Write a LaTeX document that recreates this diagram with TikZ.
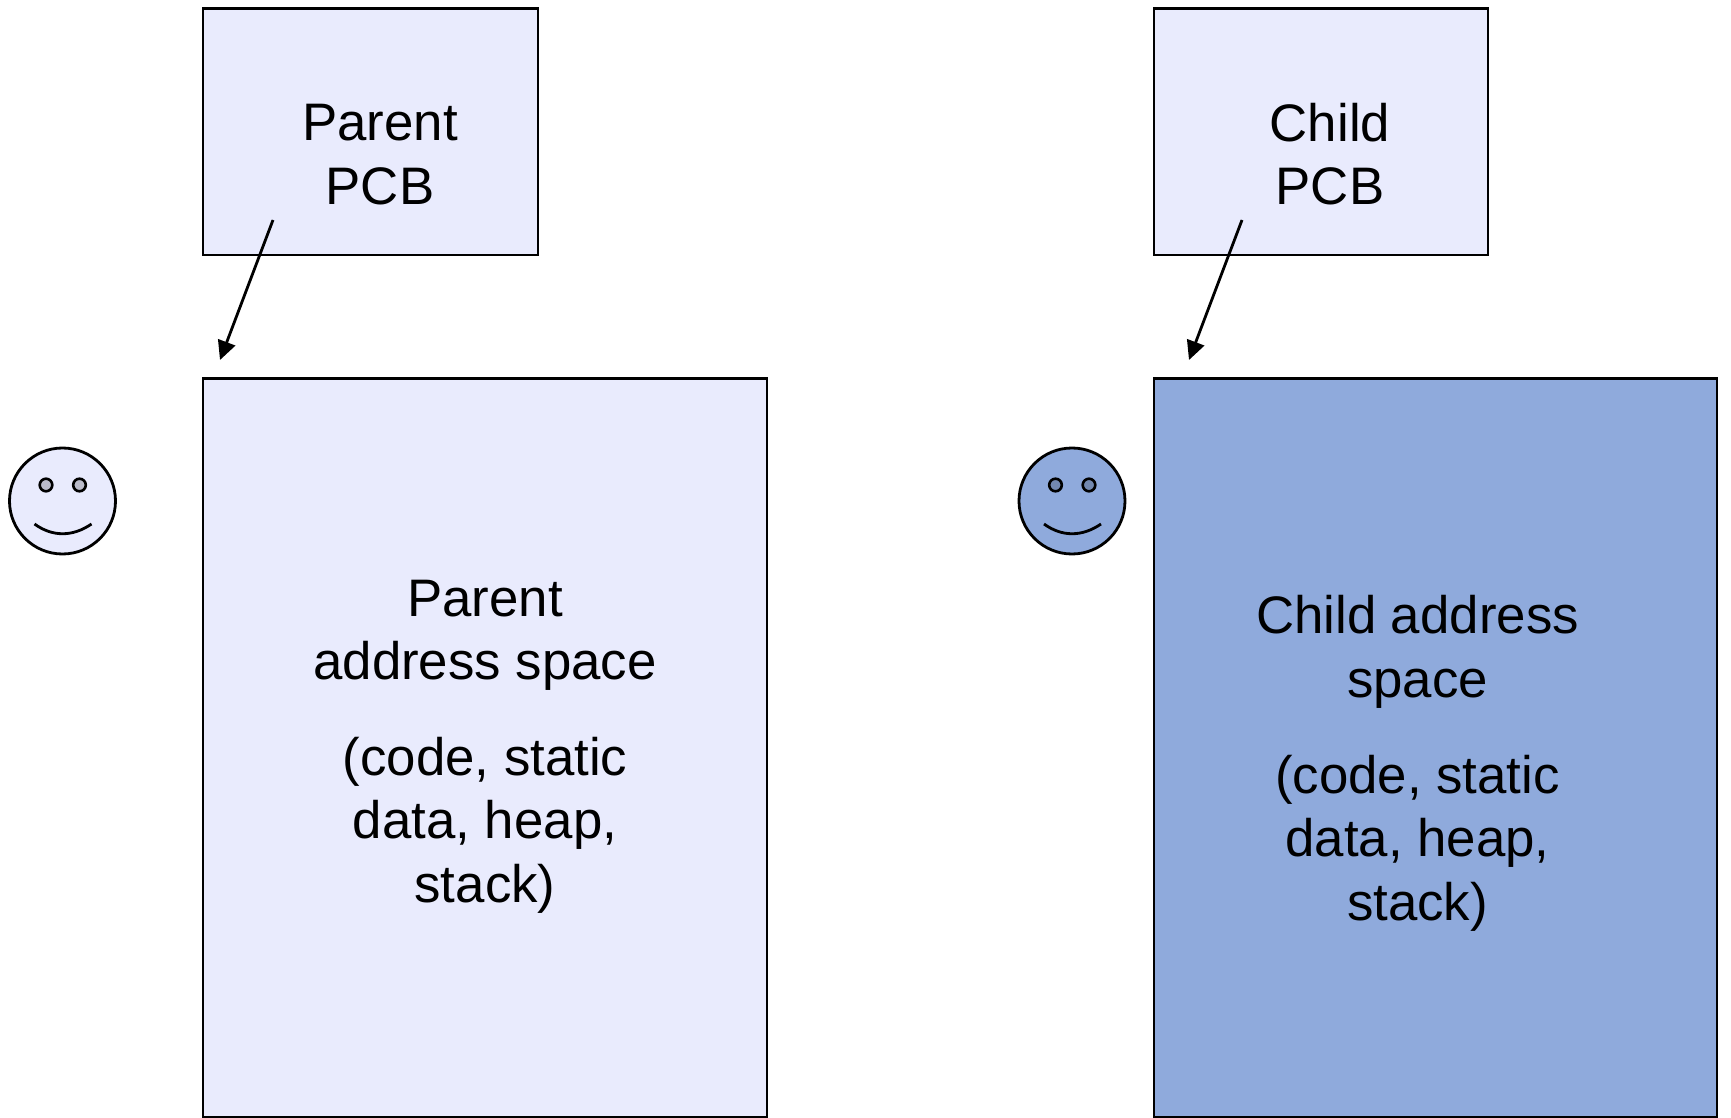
\documentclass[tikz,border=0pt]{standalone}
\usepackage{fontspec}
\setmainfont{Liberation Sans}
\usetikzlibrary{arrows.meta}
\definecolor{lightfill}{HTML}{E9EBFD}
\definecolor{bluefill}{HTML}{8FAADC}
\definecolor{lighteye}{HTML}{BABBCA}
\definecolor{blueeye}{HTML}{7389B0}
\tikzset{
  x=0.5pt,y=-0.5pt,
  boxshape/.style={draw=black,line width=1.35pt,line join=miter},
  facering/.style={draw=black,line width=1.4pt},
  eyering/.style={draw=black,line width=1.3pt},
  smileline/.style={draw=black,line width=1.4pt},
  ptr/.style={draw=black,line width=1.4pt,-{Triangle[length=9.5pt,width=9pt]}},
  lbl/.style={font=\fontsize{26.4}{31.8}\selectfont,align=center,inner sep=0pt},
}
\newcommand{\gapline}{\\[16pt]}
\newcommand{\smiley}[3]{%
  \draw[facering,fill=#2] (#1,501) circle[radius=53];
  \draw[eyering,fill=#3] (#1-16.5,485) circle[radius=6.3];
  \draw[eyering,fill=#3] (#1+17,485) circle[radius=6.3];
  \draw[smileline] (#1-28,524) .. controls (#1-10,537) and (#1+10,537) .. (#1+29,524);
}
\begin{document}
\begin{tikzpicture}
\useasboundingbox (0,0) rectangle (1731,1118);
\fill[white] (0,0) rectangle (1731,1118);
% boxes
\draw[boxshape,fill=lightfill] (203,8.5) rectangle (538,255);
\draw[boxshape,fill=lightfill] (1154,8.5) rectangle (1488,255);
\draw[boxshape,fill=lightfill] (203,378.5) rectangle (767,1117.5);
\draw[boxshape,fill=bluefill] (1154,378.5) rectangle (1717,1117.5);
% faces
\smiley{62.5}{lightfill}{lighteye}
\smiley{1072}{bluefill}{blueeye}
% text
\node[lbl] (ppcb) at (380,154.5) {Parent\\PCB};
\node[lbl] (cpcb) at (1330,154) {Child\\PCB};
\node[lbl] (paddr) at (485,746.5) {Parent\\address space\gapline(code, static\\data, heap,\\stack)};
\node[lbl] (caddr) at (1417.5,763.5) {Child address\\space\gapline(code, static\\data, heap,\\stack)};
% arrows
\coordinate (pa) at (273,220);
\coordinate (pb) at (220,360);
\coordinate (ca) at (1242,220);
\coordinate (cb) at (1189,360);
\draw[ptr] (pa) -- (pb);
\draw[ptr] (ca) -- (cb);
\end{tikzpicture}
\end{document}
